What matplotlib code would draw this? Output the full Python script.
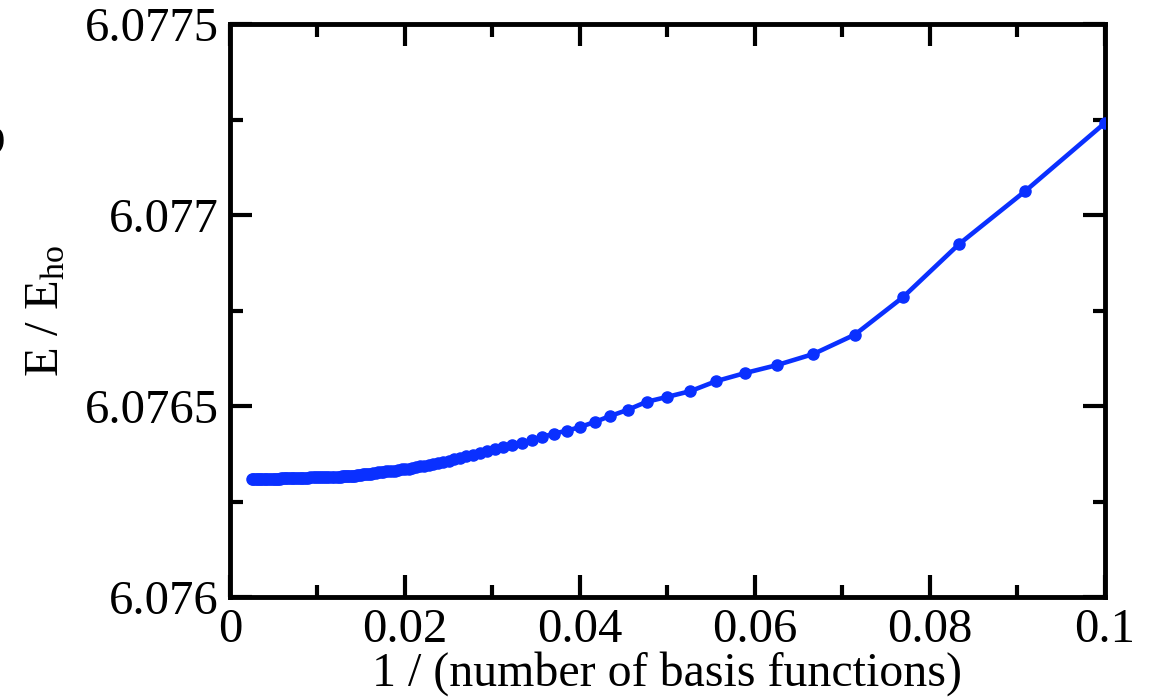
import matplotlib
matplotlib.use("Agg")
import matplotlib.pyplot as plt
from matplotlib.ticker import MultipleLocator, FormatStrFormatter

# basis size and converged energy (units of E_ho)
n_basis = [10, 11, 12, 13, 14, 15, 16, 17, 18, 19,
           20, 21, 22, 23, 24, 25, 26, 27, 28, 29,
           30, 31, 32, 33, 34, 35, 36, 37, 38, 39,
           40, 41, 42, 43, 44, 45, 46, 47, 48, 49,
           50, 51, 52, 53, 54, 55, 56, 57, 58, 59,
           60, 61, 62, 63, 64, 65, 66, 67, 68, 69,
           70, 71, 72, 73, 74, 75, 76, 77, 78, 79,
           80, 82, 84, 86, 88, 90, 92, 94, 96, 98,
           100, 103, 106, 109, 112, 115, 118, 121, 124, 127,
           130, 134, 138, 142, 146, 150, 155, 160, 165, 170,
           176, 182, 188, 194, 200, 210, 220, 230, 240, 250,
           265, 280, 295, 310, 330, 350, 375, 400]
energy = [6.077241, 6.077063, 6.076924, 6.076785, 6.076687, 6.076636, 6.076607, 6.076586, 6.076565, 6.076539,
          6.076524, 6.076511, 6.076490, 6.076474, 6.076458, 6.076445, 6.076435, 6.076428, 6.076419, 6.076411,
          6.076403, 6.076398, 6.076393, 6.076387, 6.076382, 6.076377, 6.076372, 6.076369, 6.076364, 6.076361,
          6.076357, 6.076353, 6.076351, 6.076348, 6.076346, 6.076343, 6.076342, 6.076340, 6.076338, 6.076336,
          6.076335, 6.076334, 6.076333, 6.076331, 6.076330, 6.076330, 6.076329, 6.076327, 6.076326, 6.076326,
          6.076325, 6.076324, 6.076323, 6.076323, 6.076322, 6.076322, 6.076321, 6.076320, 6.076319, 6.076319,
          6.076318, 6.076318, 6.076318, 6.076317, 6.076317, 6.076317, 6.076316, 6.076316, 6.076316, 6.076315,
          6.076315, 6.076315, 6.076314, 6.076314, 6.076314, 6.076314, 6.076314, 6.076313, 6.076313, 6.076313,
          6.076313, 6.076313, 6.076313, 6.076313, 6.076312, 6.076312, 6.076312, 6.076312, 6.076312, 6.076312,
          6.076312, 6.076312, 6.076312, 6.076312, 6.076311, 6.076311, 6.076311, 6.076311, 6.076311, 6.076311,
          6.076310, 6.076310, 6.076310, 6.076310, 6.076310, 6.076310, 6.076310, 6.076310, 6.076310, 6.076310,
          6.076310, 6.076310, 6.076310, 6.076310, 6.076310, 6.076310, 6.076310, 6.076310]

inv_n = [1.0 / n for n in n_basis]

plt.rcParams["font.family"] = ["Liberation Serif", "DejaVu Serif"]
plt.rcParams["mathtext.fontset"] = "custom"
plt.rcParams["mathtext.rm"] = "Liberation Serif"
plt.rcParams["mathtext.it"] = "Liberation Serif:italic"

fig = plt.figure(figsize=(11.54, 6.98), dpi=100)
ax = fig.add_axes([0.1993, 0.1447, 0.7582, 0.8209])

ax.plot(inv_n, energy, color="#0a30ff", lw=3.3, marker="o", ms=8,
        solid_joinstyle="round", zorder=3)

ax.set_xlim(0, 0.1)
ax.set_ylim(6.076, 6.0775)
ax.xaxis.set_major_locator(MultipleLocator(0.02))
ax.xaxis.set_minor_locator(MultipleLocator(0.01))
ax.yaxis.set_major_locator(MultipleLocator(0.0005))
ax.yaxis.set_minor_locator(MultipleLocator(0.00025))
ax.xaxis.set_major_formatter(FormatStrFormatter("%g"))
ax.yaxis.set_major_formatter(FormatStrFormatter("%g"))

for sp in ax.spines.values():
    sp.set_linewidth(3.5)
ax.tick_params(which="both", direction="in", top=True, right=True,
               width=3, labelsize=35)
ax.tick_params(which="major", length=16, pad=8)
ax.tick_params(which="minor", length=9)

ax.set_xlabel("1 / (number of basis functions)", fontsize=34.5, labelpad=-1)
ax.set_ylabel(r"E / E$_\mathrm{ho}$", fontsize=35, labelpad=12)

# panel letter cut off at the left edge
fig.text(0.0045, 1 - 153 / 698, "b", ha="right", va="baseline", fontsize=40,
         fontweight="bold")

fig.savefig("out.png", dpi=100)
